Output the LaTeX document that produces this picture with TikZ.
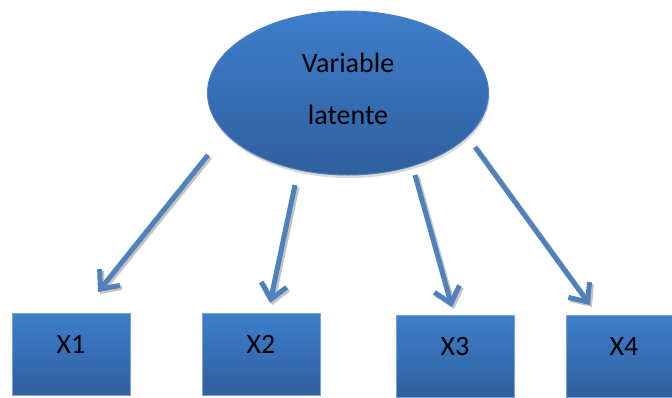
\documentclass[tikz,border=0pt]{standalone}
\usepackage{fontspec}
\setmainfont{Carlito}
\usetikzlibrary{arrows.meta,shadows,shapes.geometric}
\definecolor{topb}{RGB}{62,126,203}
\definecolor{botb}{RGB}{47,95,158}
\definecolor{arr}{RGB}{79,129,189}
\definecolor{edgeb}{RGB}{125,162,214}
\definecolor{shd}{RGB}{170,170,170}
\begin{document}
\begin{tikzpicture}[x=1pt,y=-1pt,
  latnode/.style={ellipse, minimum width=281pt, minimum height=164pt, inner sep=0pt,
    top color=topb, bottom color=botb, draw=arr, line width=1pt,
    drop shadow={shadow xshift=1pt, shadow yshift=-3pt, opacity=0.45, fill=shd}},
  obsnode/.style={rectangle, minimum width=118pt, minimum height=82pt, inner sep=0pt,
    top color=topb, bottom color=botb, draw=edgeb, line width=1pt},
  lbl/.style={font=\fontsize{28}{28}\selectfont, text=black, inner sep=0pt, anchor=base},
  tipstyle/.style={-{Straight Barb[length=15pt,width=26pt,line width=5pt]}},
  link/.style={draw=arr, line width=5pt, tipstyle},
  linkshadow/.style={draw=shd, line width=5pt, opacity=0.7, tipstyle}]
\useasboundingbox (0,0) rectangle (672,397);
\clip (0,0) rectangle (672,397);
% latent variable
\node[latnode] (lat) at (348,93) {};
\node[lbl] (latA) at (348,72) {Variable};
\node[lbl] (latB) at (348,124) {latente};
% observed variables
\node[obsnode] (x1) at (71,354) {};
\node[obsnode] (x2) at (261,354) {};
\node[obsnode] (x3) at (455,356) {};
\node[obsnode] (x4) at (625,356) {};
\node[lbl] (l1) at (71,353) {X1};
\node[lbl] (l2) at (261,353) {X2};
\node[lbl] (l3) at (455,355) {X3};
\node[lbl] (l4) at (624,355) {X4};
% arrow ends
\coordinate (s1) at (208,155); \coordinate (e1) at (98,292);
\coordinate (s2) at (295,185); \coordinate (e2) at (270,303);
\coordinate (s3) at (415,175); \coordinate (e3) at (452,307);
\coordinate (s4) at (475,147); \coordinate (e4) at (590,305);
\coordinate (s1b) at (210,157); \coordinate (e1b) at (100,294);
\coordinate (s2b) at (297,187); \coordinate (e2b) at (272,305);
\coordinate (s3b) at (417,177); \coordinate (e3b) at (454,309);
\coordinate (s4b) at (477,149); \coordinate (e4b) at (592,307);
% shadows
\draw[linkshadow] (s1b) -- (e1b);
\draw[linkshadow] (s2b) -- (e2b);
\draw[linkshadow] (s3b) -- (e3b);
\draw[linkshadow] (s4b) -- (e4b);
% arrows
\draw[link] (s1) -- (e1);
\draw[link] (s2) -- (e2);
\draw[link] (s3) -- (e3);
\draw[link] (s4) -- (e4);
\end{tikzpicture}
\end{document}
